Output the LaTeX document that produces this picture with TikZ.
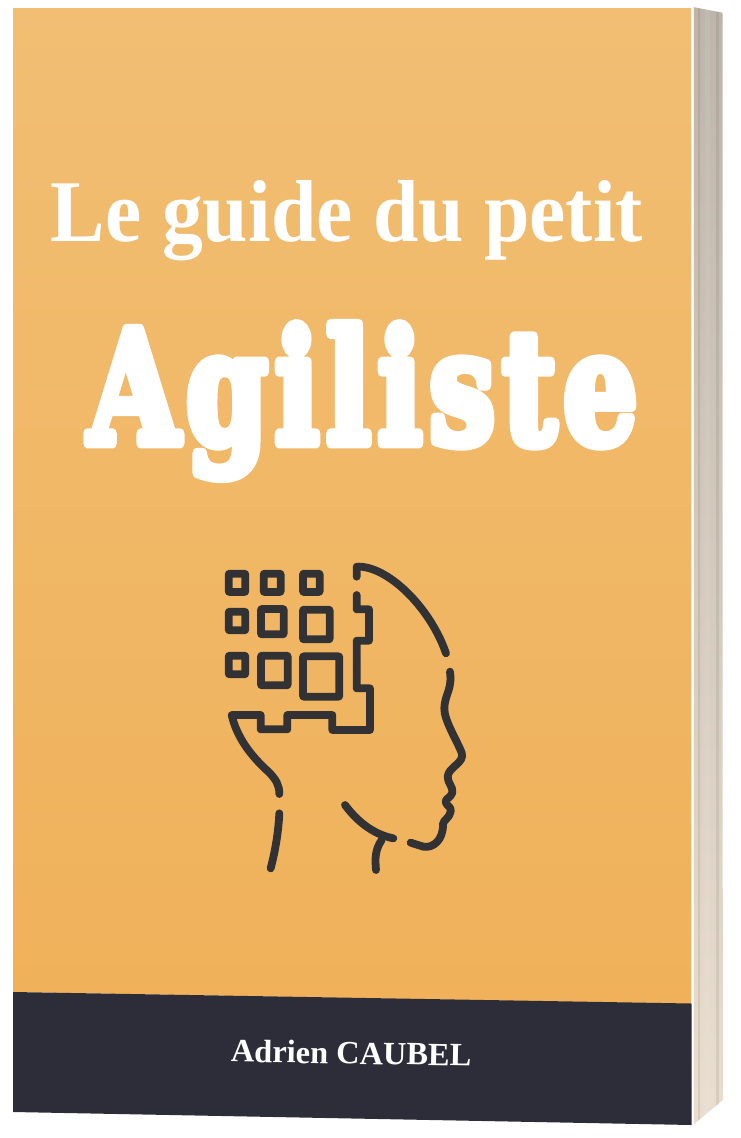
\documentclass[tikz,border=0pt]{standalone}
\usepackage{fontspec}
\setmainfont{Liberation Serif}
\newfontfamily\titlefont{Liberation Serif Bold}
\newfontfamily\heavyfont[FakeBold=7,LetterSpace=6]{DejaVu Serif Bold}
\usetikzlibrary{calc}
\definecolor{coverTop}{RGB}{241,190,115}
\definecolor{coverBot}{RGB}{240,177,90}
\definecolor{band}{RGB}{45,45,57}
\definecolor{ink}{RGB}{50,50,52}
\definecolor{spineTop}{RGB}{190,181,170}
\definecolor{spineBot}{RGB}{233,222,207}
\tikzset{
  iconline/.style={draw=ink,line width=7.8pt,line cap=round,line join=round},
  cell/.style={draw=ink,line width=7.8pt,line join=round,rounded corners=0.6pt},
  whitetext/.style={text=white,inner sep=0pt,anchor=base},
  strip/.style={draw=none,fill=#1,opacity=0.07}
}
\begin{document}
\begin{tikzpicture}[x=1pt,y=-1pt]
\useasboundingbox (0,0) rectangle (740,1138);
% spine
\shade[top color=spineTop,bottom color=spineBot] (693,7) -- (722.5,12.7) -- (722.8,1100) -- (693,1125) -- cycle;
\fill[strip=white] (705,9.3) -- (710,10.3) -- (710,1111) -- (705,1115) -- cycle;
\fill[strip=black] (698,8) -- (700,8.4) -- (700,1119) -- (698,1121) -- cycle;
\fill[strip=black] (716,11.5) -- (719,12) -- (719,1103) -- (716,1106) -- cycle;
\fill[white,opacity=0.8] (691,7) rectangle (693.5,1125);
% cover
\shade[top color=coverTop,bottom color=coverBot] (13,8) -- (691,8) -- (691,1004) -- (13,992) -- cycle;
\fill[band] (13,992) -- (691.5,1003.5) -- (691.5,1125) -- (13,1112) -- cycle;
% titles
\node[whitetext,xscale=0.928] (title) at (347,241) {\titlefont\fontsize{88}{92}\selectfont Le guide du petit};
\begin{scope}[line join=round,line cap=round]
\node[whitetext,xscale=0.9,yscale=1.2] (main) at (363,443) {\heavyfont\fontsize{130}{140}\selectfont Agiliste};
\end{scope}
\node[whitetext,rotate=-1] (author) at (351,1064) {\titlefont\fontsize{32.4}{36}\selectfont Adrien CAUBEL};
% icon
\begin{scope}[shift={(200,550)},x=0.33333pt,y=-0.33333pt]
\foreach \a/\b/\c/\d in {86/71/136/126,191/71/242/126,309/71/359/126,86/185/136/241,183/177/251/253,309/179/389/268,86/317/136/373,183/317/263/406,309/319/418/440}
  \draw[cell] (\a,\b) rectangle (\c,\d);
% brain edge
\draw[iconline] (470,135) -- (470,178) -- (507,178) -- (507,272) -- (470,272) -- (470,415) -- (510,415) -- (510,540) -- (397,540) -- (397,495) -- (262,495) -- (262,538) -- (182,538) -- (182,495) -- (95,495)
  .. controls (110,560) and (150,615) .. (205,665) .. controls (228,688) and (238,705) .. (238,732);
% skull
\draw[iconline] (470,80) -- (470,50) .. controls (560,45) and (690,170) .. (738,310);
% face
\draw[iconline] (750,365) .. controls (757,420) and (735,430) .. (733,475) .. controls (732,510) and (770,570) .. (785,608) .. controls (795,640) and (745,650) .. (743,680) .. controls (743,700) and (760,710) .. (757,728) .. controls (752,745) and (735,745) .. (737,757) .. controls (742,770) and (755,770) .. (752,785) .. controls (748,805) and (730,810) .. (729,822) .. controls (730,870) and (700,895) .. (670,890) -- (632,878);
% neck back
\draw[iconline] (238,790) .. controls (235,850) and (225,905) .. (212,955);
% jaw
\draw[iconline] (435,765) .. controls (480,825) and (530,855) .. (580,865);
\draw[iconline] (545,870) .. controls (525,900) and (525,925) .. (528,960);
\end{scope}
\end{tikzpicture}
\end{document}
